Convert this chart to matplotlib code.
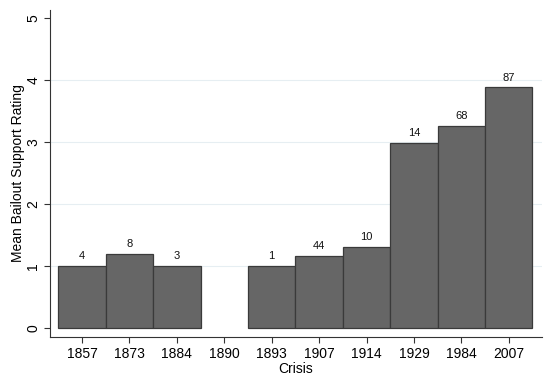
import matplotlib
matplotlib.use('Agg')
import matplotlib.pyplot as plt

crises = ['1857', '1873', '1884', '1890', '1893', '1907', '1914', '1929', '1984', '2007']
ratings = [1.0, 1.19, 1.0, None, 1.0, 1.16, 1.30, 2.98, 3.26, 3.88]
counts = ['4', '8', '3', '', '1', '44', '10', '14', '68', '87']

plt.rcParams['font.family'] = ['Liberation Sans', 'DejaVu Sans']

fig = plt.figure(figsize=(5.5, 3.79), dpi=100)
ax = fig.add_axes([0.0909, 0.1108, 0.8945, 0.8628])

pos = list(range(len(crises)))
for i, (v, c) in enumerate(zip(ratings, counts)):
    if v is None:
        continue
    ax.bar(i, v, width=1.0, color='#666666', edgecolor='#3a3a3a', linewidth=0.9, zorder=3)
    ax.text(i, v + 0.08, c, ha='center', va='bottom', fontsize=8, color='#111111')

for g in [1, 2, 3, 4]:
    ax.axhline(g, color='#e6eef2', linewidth=0.8, zorder=1)

ax.set_xlim(-0.675, 9.7)
ax.set_ylim(-0.145, 5.13)
ax.set_xticks(pos)
ax.set_xticklabels(crises, fontsize=10)
ax.set_yticks([0, 1, 2, 3, 4, 5])
ax.set_yticklabels(['0', '1', '2', '3', '4', '5'], fontsize=10, rotation=90, va='center')
ax.set_xlabel('Crisis', fontsize=10, labelpad=1)
ax.set_ylabel('Mean Bailout Support Rating', fontsize=10, labelpad=1)

ax.spines['top'].set_visible(False)
ax.spines['right'].set_visible(False)
for s in ['left', 'bottom']:
    ax.spines[s].set_color('#333333')
    ax.spines[s].set_linewidth(0.8)
ax.tick_params(length=4, width=0.8, color='#333333', pad=3)

fig.savefig('out.png', dpi=100)
